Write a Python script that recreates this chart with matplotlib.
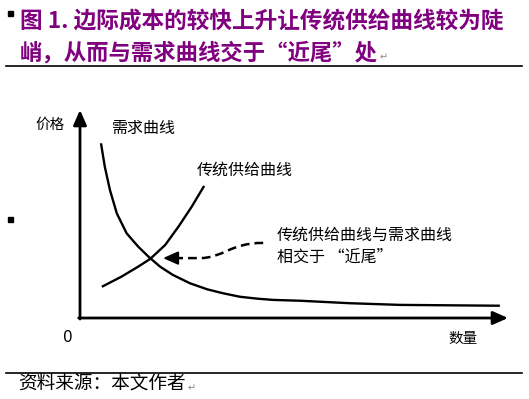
import matplotlib
matplotlib.use("Agg")
import matplotlib.pyplot as plt
from matplotlib.patches import Rectangle, PathPatch
from matplotlib.path import Path

plt.rcParams['font.family'] = ['Noto Sans CJK SC', 'DejaVu Sans']

W, H = 529, 399

# curves (quantity / price on a 0-100 scale)
demand_q = [4.9, 5.8, 7.0, 8.6, 10.9, 13.6, 16.0, 18.7, 21.7, 25.7, 29.7, 33.4, 37.4, 41.4, 45.1,
            51.4, 63.1, 74.8, 98.1]
demand_p = [84.0, 72.7, 61.5, 50.3, 40.7, 34.3, 29.5, 24.7, 20.7, 16.7, 13.8, 11.9, 10.2, 9.3, 8.7,
            8.3, 7.1, 6.3, 5.9]
supply_q = [5.1, 9.7, 13.6, 16.4, 19.9, 23.0, 26.1, 29.0]
supply_p = [15.0, 19.9, 24.7, 28.4, 35.1, 43.9, 53.5, 63.5]

title_1 = "图 1. 边际成本的较快上升让传统供给曲线较为陡"
title_2 = "峭，从而与需求曲线交于“近尾”处"
source = "资料来源：本文作者"
purple = "#80007f"


def fx(x):
    return x / W


def fy(y):
    return 1 - y / H


def para_mark(txt, dy):
    # small grey return mark right after a text, like the word processor shows
    fig.canvas.draw()
    bb = txt.get_window_extent()
    fig.text((bb.x1 + 2) / W, bb.y0 / H + dy, "↵", fontsize=7, color='#888888',
             va='bottom', ha='left', family='DejaVu Sans')


fig = plt.figure(figsize=(W / 100, H / 100), dpi=100)

# title block
fig.text(fx(20), fy(21), title_1, fontsize=16.3, fontweight='bold', color=purple, va='center', ha='left')
t2 = fig.text(fx(20), fy(53), title_2, fontsize=16.1, fontweight='bold', color=purple, va='center', ha='left')
fig.patches.append(Rectangle((fx(8), fy(16)), 5 / W, 5 / H, transform=fig.transFigure, color='k'))
fig.patches.append(Rectangle((fx(8), fy(222)), 5 / W, 5 / H, transform=fig.transFigure, color='k'))
fig.add_artist(plt.Line2D([fx(6), fx(522)], [fy(66), fy(66)], color='k', lw=1.2))
fig.add_artist(plt.Line2D([fx(6), fx(522)], [fy(373), fy(373)], color='k', lw=1.2))
src = fig.text(fx(18), fy(384), source, fontsize=13.4, color='k', va='center', ha='left')

# chart area: origin at the axis corner
ax = fig.add_axes([fx(80), fy(318), 428 / W, 208 / H])
ax.set_xlim(0, 100)
ax.set_ylim(0, 100)
ax.axis('off')

arrow = dict(arrowstyle='-|>,head_length=0.9,head_width=0.4', color='k', lw=2, shrinkA=0, shrinkB=0)
ax.annotate('', xy=(0, 100), xytext=(0, -0.5), arrowprops=arrow, annotation_clip=False)
ax.annotate('', xy=(100, 0), xytext=(-0.3, 0), arrowprops=arrow, annotation_clip=False)

ax.plot(demand_q, demand_p, color='k', lw=1.7, solid_capstyle='butt', solid_joinstyle='round')
ax.plot(supply_q, supply_p, color='k', lw=1.7, solid_capstyle='butt', solid_joinstyle='round')

# dashed pointer to the crossing
verts = [(42.8, 36.1), (35.0, 36.1), (33.5, 28.8), (28.0, 28.8), (22.0, 28.8)]
codes = [Path.MOVETO, Path.CURVE4, Path.CURVE4, Path.CURVE4, Path.LINETO]
ax.add_patch(PathPatch(Path(verts, codes), fill=False, color='k', lw=1.8, linestyle=(0, (3.5, 2))))
ax.annotate('', xy=(19.4, 28.8), xytext=(22.5, 28.8),
            arrowprops=dict(arrowstyle='-|>,head_length=0.9,head_width=0.4', color='k', lw=1.5, shrinkA=0, shrinkB=0))

fig.text(fx(35), fy(125), "价格", fontsize=10.5, va='center', ha='left')
fig.text(fx(68), fy(337), "0", fontsize=11, va='center', ha='center', family='DejaVu Sans')
fig.text(fx(448), fy(339), "数量", fontsize=10.5, va='center', ha='left')
fig.text(fx(112), fy(128), "需求曲线", fontsize=11.5, va='center', ha='left')
fig.text(fx(197), fy(170), "传统供给曲线", fontsize=11.5, va='center', ha='left')
fig.text(fx(277), fy(235), "传统供给曲线与需求曲线", fontsize=11.5, va='center', ha='left')
fig.text(fx(277), fy(257), "相交于 “近尾”", fontsize=11.5, va='center', ha='left')

para_mark(t2, 0.005)
para_mark(src, 0.0)

fig.savefig("out.png", dpi=100)
